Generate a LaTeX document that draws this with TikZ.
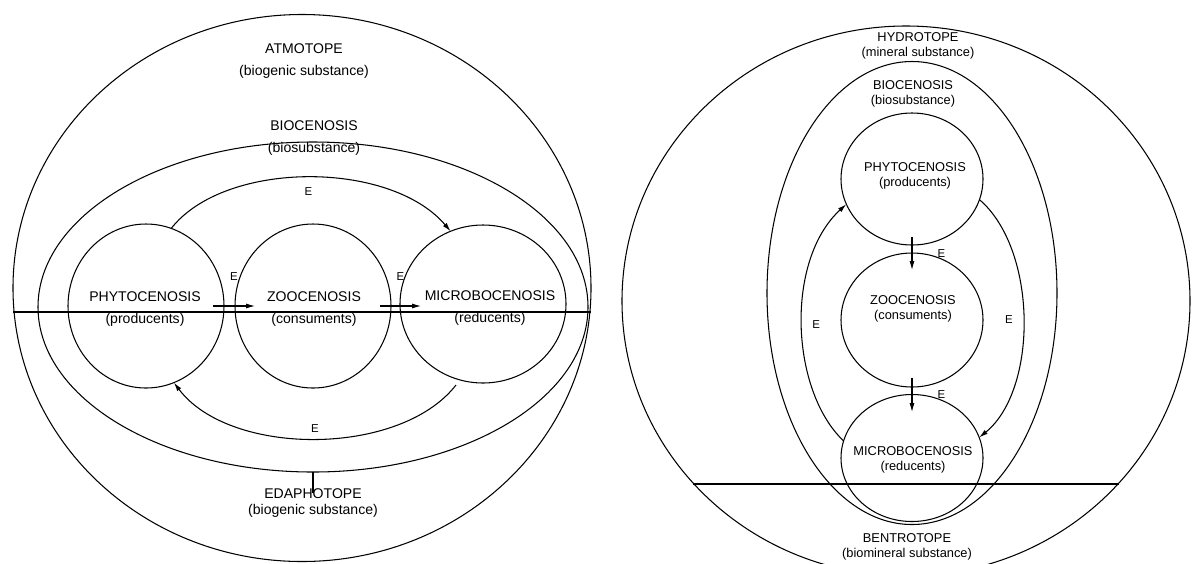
\documentclass[tikz,border=0pt]{standalone}
\usepackage{fontspec}
\setmainfont{Liberation Sans}
\usetikzlibrary{shapes.geometric,arrows.meta}

\tikzset{
  cenosis/.style={draw, ellipse, inner sep=0pt, outer sep=0pt},
  ltxt/.style={font=\fontsize{8}{13}\selectfont, align=center, inner sep=0pt},
  ltight/.style={font=\fontsize{8}{8.8}\selectfont, align=center, inner sep=0pt},
  rtxt/.style={font=\fontsize{7.3}{8.6}\selectfont, align=center, inner sep=0pt},
  etxt/.style={font=\fontsize{6.5}{7}\selectfont, inner sep=0pt},
  flow/.style={-{Latex[length=5pt,width=2.8pt]}},
  horizon/.style={line width=1pt},
}

\begin{document}
\begin{tikzpicture}[x=0.2mm, y=-0.2mm, line width=0.6pt]
\useasboundingbox (0,0) rectangle (1192,563);

% left picture
\node[cenosis, minimum width=115.6mm, minimum height=109.4mm] (latmo) at (302,288) {};
\node[cenosis, minimum width=110mm, minimum height=66mm] (lbio) at (313,307) {};
\node[cenosis, minimum width=31.2mm, minimum height=32.8mm] (lphyto) at (146,306) {};
\node[cenosis, minimum width=31.2mm, minimum height=32.8mm] (lzoo) at (313,306) {};
\node[cenosis, minimum width=33.2mm, minimum height=31.6mm] (lmicro) at (483,304) {};

\node[ltxt] (latmolbl) at (304,61) {ATMOTOPE\\(biogenic substance)};
\node[ltxt] (lbiolbl) at (314,138) {BIOCENOSIS\\(biosubstance)};
\node[ltxt] (lphytolbl) at (145,309) {PHYTOCENOSIS\\(producents)};
\node[ltxt] (lzoolbl) at (314,309) {ZOOCENOSIS\\(consuments)};
\node[ltxt] (lmicrolbl) at (490,308) {MICROBOCENOSIS\\(reducents)};
\node[ltight] (ledapho) at (313,503) {EDAPHOTOPE\\(biogenic substance)};

\coordinate (lhw) at (13,312);
\coordinate (lhe) at (591,312);
\coordinate (lret) at (456,385);
\draw[horizon] (lhw) -- (lhe);

\draw[flow] (lphyto.72) .. controls (225,160) and (390,160) .. node[etxt, below=2mm] {E} (lmicro.114);
\draw[flow] ([xshift=-2.2mm]lphyto.east) -- node[etxt, above=5mm] {E} ++(8.4mm,0);
\draw[flow] ([xshift=-2.2mm]lzoo.east) -- node[etxt, above=5mm] {E} ++(8.2mm,0);
\draw[flow] (lret) .. controls (400,457) and (230,457) .. node[etxt, above=1.2mm] {E} (lphyto.290);
\draw (lbio.south) -- ([yshift=-1mm]ledapho.north);

% right picture
\node[cenosis, minimum width=113.6mm, minimum height=110mm] (rhydro) at (906,301) {};
\node[cenosis, minimum width=58mm, minimum height=92.6mm] (rbio) at (912,293) {};
\node[cenosis, minimum width=28.4mm, minimum height=26.4mm] (rphyto) at (912,179) {};
\node[cenosis, minimum width=28.4mm, minimum height=26.8mm] (rzoo) at (912,320) {};
\node[cenosis, minimum width=28.4mm, minimum height=25.4mm] (rmicro) at (912,458) {};

\node[rtxt] (rhydrolbl) at (918,46) {HYDROTOPE\\(mineral substance)};
\node[rtxt] (rbiolbl) at (913,94) {BIOCENOSIS\\(biosubstance)};
\node[rtxt] (rphytolbl) at (915,176) {PHYTOCENOSIS\\(producents)};
\node[rtxt] (rzoolbl) at (913,309) {ZOOCENOSIS\\(consuments)};
\node[rtxt] (rmicrolbl) at (913,460) {MICROBOCENOSIS\\(reducents)};
\node[rtxt] (rbentho) at (907,547) {BENTROTOPE\\(biomineral substance)};

\coordinate (rhw) at (693,484);
\coordinate (rhe) at (1119,484);
\draw[horizon] (rhw) -- (rhe);

\draw[flow] ([yshift=1.6mm]rphyto.south) -- node[etxt, right=5mm] {E} ([yshift=-3.4mm]rzoo.north);
\draw[flow] ([yshift=1.8mm]rzoo.south) -- node[etxt, right=5mm] {E} ([yshift=-3.5mm]rmicro.north);
\draw[flow] (rmicro.166) .. controls (790,390) and (785,260) .. node[etxt, right=2mm] {E} (rphyto.201);
\draw[flow] (rphyto.343) .. controls (1038,250) and (1038,390) .. node[etxt, left=2mm] {E} (rmicro.17);
\end{tikzpicture}
\end{document}
